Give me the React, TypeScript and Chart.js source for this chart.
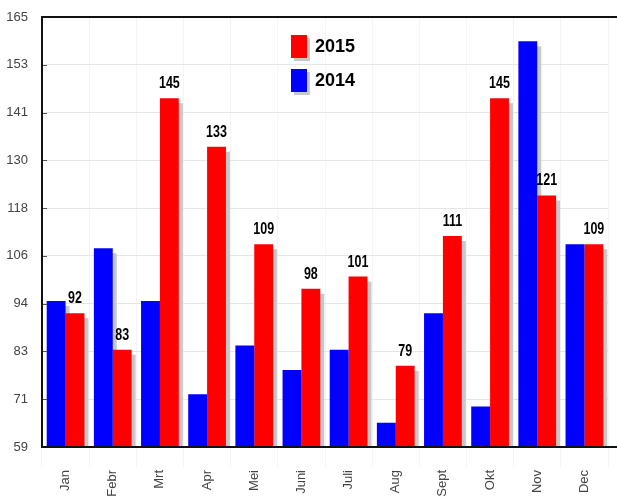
import React, { useEffect, useRef } from "react";
import { Chart, registerables } from "chart.js";

Chart.register(...registerables);

const months = ["Jan", "Febr", "Mrt", "Apr", "Mei", "Juni", "Juli", "Aug", "Sept", "Okt", "Nov", "Dec"];
const values2014 = [95, 108, 95, 72, 84, 78, 83, 65, 92, 69, 159, 109];
const values2015 = [92, 83, 145, 133, 109, 98, 101, 79, 111, 145, 121, 109];
const seriesLabels = ["2014", "2015"];
const seriesColors = ["#0000ff", "#ff0000"];
const yTickLabels = ["59", "71", "83", "94", "106", "118", "130", "141", "153", "165"];
const yMin = 59;
const yMax = 165;

const decor = {
  id: "decor",
  beforeDatasetsDraw(chart: any) {
    const ctx = chart.ctx;
    const ca = chart.chartArea;
    ctx.save();
    ctx.beginPath();
    ctx.rect(ca.left, ca.top, chart.width - ca.left, ca.bottom - ca.top);
    ctx.clip();
    ctx.fillStyle = "#c8c8c8";
    chart.data.datasets.forEach((_ds: any, i: number) => {
      const meta = chart.getDatasetMeta(i);
      meta.data.forEach((bar: any) => {
        const p = bar.getProps(["x", "y", "base", "width"], true);
        ctx.fillRect(p.x - p.width / 2 + 4, p.y + 5, p.width, p.base - p.y - 5);
      });
    });
    ctx.restore();
  },
  afterDatasetsDraw(chart: any) {
    const ctx = chart.ctx;
    const meta = chart.getDatasetMeta(1);
    const data = chart.data.datasets[1].data;
    ctx.save();
    ctx.fillStyle = "#000";
    ctx.font = "bold 16px 'Liberation Sans', Arial, sans-serif";
    ctx.textAlign = "center";
    ctx.textBaseline = "alphabetic";
    meta.data.forEach((bar: any, i: number) => {
      const p = bar.getProps(["x", "y"], true);
      ctx.save();
      ctx.translate(p.x, p.y - 10);
      ctx.scale(0.78, 1);
      ctx.fillText(String(data[i]), 0, 0);
      ctx.restore();
    });
    ctx.restore();
  },
  afterDraw(chart: any) {
    const ctx = chart.ctx;
    const ca = chart.chartArea;
    const yScale = chart.scales.y;
    ctx.save();
    // inward tick marks
    ctx.strokeStyle = "#555";
    ctx.lineWidth = 1;
    yScale.ticks.forEach((t: any) => {
      const y = Math.round(yScale.getPixelForValue(t.value)) + 0.5;
      ctx.beginPath();
      ctx.moveTo(ca.left, y);
      ctx.lineTo(ca.left + 5, y);
      ctx.stroke();
    });
    // frame lines
    ctx.strokeStyle = "#111";
    ctx.lineWidth = 2;
    ctx.beginPath();
    ctx.moveTo(ca.left, ca.top);
    ctx.lineTo(chart.width, ca.top);
    ctx.moveTo(ca.left, ca.bottom);
    ctx.lineTo(chart.width, ca.bottom);
    ctx.moveTo(ca.left, ca.top - 1);
    ctx.lineTo(ca.left, ca.bottom + 1);
    ctx.stroke();
    // legend
    const order = [1, 0];
    order.forEach((dsIndex, row) => {
      const ds = chart.data.datasets[dsIndex];
      const bx = 291;
      const by = 35 + row * 34;
      ctx.fillStyle = "#c8c8c8";
      ctx.fillRect(bx + 3, by + 3, 16, 23);
      ctx.fillStyle = ds.backgroundColor;
      ctx.fillRect(bx, by, 16, 23);
      ctx.fillStyle = "#000";
      ctx.font = "bold 18px 'Liberation Sans', Arial, sans-serif";
      ctx.textAlign = "left";
      ctx.textBaseline = "middle";
      ctx.fillText(ds.label, bx + 24, by + 12);
    });
    ctx.restore();
  },
};

export default function App() {
  const canvasRef = useRef<HTMLCanvasElement | null>(null);

  useEffect(() => {
    if (!canvasRef.current) return;
    Chart.defaults.font.family = "'Liberation Sans', Arial, sans-serif";
    const chart = new Chart(canvasRef.current, {
      type: "bar",
      data: {
        labels: months,
        datasets: [
          {
            label: seriesLabels[0],
            data: values2014,
            backgroundColor: seriesColors[0],
            categoryPercentage: 0.8,
            barPercentage: 1.0,
          },
          {
            label: seriesLabels[1],
            data: values2015,
            backgroundColor: seriesColors[1],
            categoryPercentage: 0.8,
            barPercentage: 1.0,
          },
        ],
      },
      options: {
        animation: false,
        responsive: true,
        maintainAspectRatio: false,
        layout: { padding: { top: 17, right: 9, left: 0, bottom: 0 } },
        plugins: {
          legend: { display: false },
          tooltip: { enabled: false },
          title: { display: false },
        },
        scales: {
          x: {
            afterFit: (scale: any) => {
              scale.height = 50;
              scale.paddingLeft = 0;
              scale.paddingRight = 0;
            },
            grid: {
              color: "rgba(0,0,0,0.045)",
              drawTicks: true,
              tickLength: 20,
              offset: true,
            },
            border: { display: true, color: "#111", width: 2 },
            ticks: {
              minRotation: 90,
              maxRotation: 90,
              autoSkip: false,
              padding: 3,
              color: "#444",
              font: { size: 13 },
            },
          },
          y: {
            min: yMin,
            max: yMax,
            afterFit: (scale: any) => {
              scale.width = 42;
              scale.paddingTop = 0;
              scale.paddingBottom = 0;
            },
            afterBuildTicks: (scale: any) => {
              const n = yTickLabels.length - 1;
              scale.ticks = yTickLabels.map((_l, i) => ({ value: yMin + (i * (yMax - yMin)) / n }));
            },
            grid: { color: "#e6e6e6", drawTicks: false },
            border: { display: true, color: "#111", width: 2 },
            ticks: {
              padding: 14,
              color: "#444",
              font: { size: 13 },
              callback: (_v: any, i: number) => yTickLabels[i],
            },
          },
        },
      },
      plugins: [decor],
    });
    return () => chart.destroy();
  }, []);

  return (
    <div style={{ position: "fixed", left: 0, top: 0, width: 617, height: 497, background: "#fff" }}>
      <canvas ref={canvasRef} />
    </div>
  );
}
